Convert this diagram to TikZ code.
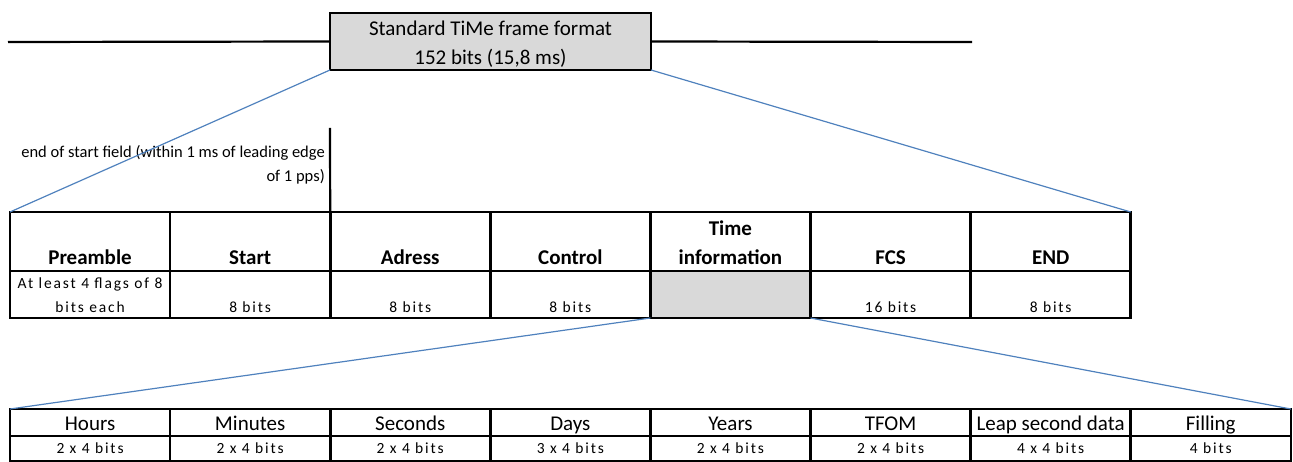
\documentclass[tikz,border=0pt]{standalone}
\usepackage{fontspec}
\setmainfont{Carlito}
\usetikzlibrary{positioning}
\definecolor{zoomblue}{RGB}{79,129,189}
\definecolor{cellgray}{RGB}{217,217,217}
\newcommand{\bigtxt}{\fontsize{21}{29}\selectfont}
\newcommand{\smalltxt}{\fontsize{15.5}{24}\selectfont\addfontfeature{LetterSpace=12}}
\tikzset{
  field/.style={
    % The shape:
    rectangle,
    % The border:
    draw=black, line width=2.6pt,
    outer sep=0pt, inner sep=0pt,
    % The size:
    minimum width=160.1pt
  },
  fieldhead/.style={field, minimum height=59pt},
  fieldbits/.style={field, minimum height=47pt},
  subhead/.style={field, minimum height=27pt, text height=16pt, text depth=0pt, font=\bigtxt},
  subbits/.style={field, minimum height=25pt, text height=11pt, text depth=2pt, font=\smalltxt},
  headtext/.style={font=\bigtxt\bfseries, align=center, anchor=south, inner sep=0pt},
  bitstext/.style={font=\smalltxt, align=center, anchor=south, inner sep=0pt}
}
\tikzstyle{line} = [draw, zoomblue, line width=1.2pt]

\begin{document}
\begin{tikzpicture}[x=1pt, y=-1pt]
\useasboundingbox (0,0) rectangle (1293,462);
% frame on the line
\coordinate (busL) at (8,42);
\coordinate (busR) at (972,42);
\node [field, anchor=north west, minimum width=321pt, minimum height=57pt, fill=cellgray] (title) at (330,13) {};
\node [font=\bigtxt, align=center, inner sep=0pt] (titleT) at ([yshift=-3pt]title.center) {Standard TiMe frame format\\152 bits (15,8 ms)};
\draw [line width=2.2pt] (busL) -- (title.west);
\draw [line width=2.2pt] (title.east) -- (busR);
% frame fields
\node [fieldhead, anchor=north west] (preH) at (10,212) {};
\node [fieldhead, right=0pt of preH] (startH) {};
\node [fieldhead, right=0pt of startH] (adrH) {};
\node [fieldhead, right=0pt of adrH] (ctrlH) {};
\node [fieldhead, right=0pt of ctrlH] (timeH) {};
\node [fieldhead, right=0pt of timeH] (fcsH) {};
\node [fieldhead, right=0pt of fcsH] (endH) {};
\node [fieldbits, below=0pt of preH] (preB) {};
\node [fieldbits, below=0pt of startH] (startB) {};
\node [fieldbits, below=0pt of adrH] (adrB) {};
\node [fieldbits, below=0pt of ctrlH] (ctrlB) {};
\node [fieldbits, below=0pt of timeH, fill=cellgray] (timeB) {};
\node [fieldbits, below=0pt of fcsH] (fcsB) {};
\node [fieldbits, below=0pt of endH] (endB) {};
% field texts
\node [headtext] (preHt) at ([yshift=6pt]preH.south) {Preamble};
\node [headtext] (startHt) at ([yshift=6pt]startH.south) {Start};
\node [headtext] (adrHt) at ([yshift=6pt]adrH.south) {Adress};
\node [headtext] (ctrlHt) at ([yshift=6pt]ctrlH.south) {Control};
\node [headtext] (timeHt) at ([yshift=6pt]timeH.south) {Time\\information};
\node [headtext] (fcsHt) at ([yshift=6pt]fcsH.south) {FCS};
\node [headtext] (endHt) at ([yshift=6pt]endH.south) {END};
\node [bitstext] (preBt) at ([yshift=5pt]preB.south) {At least 4 flags of 8\\bits each};
\node [bitstext] (startBt) at ([yshift=5pt]startB.south) {8 bits};
\node [bitstext] (adrBt) at ([yshift=5pt]adrB.south) {8 bits};
\node [bitstext] (ctrlBt) at ([yshift=5pt]ctrlB.south) {8 bits};
\node [bitstext] (fcsBt) at ([yshift=5pt]fcsB.south) {16 bits};
\node [bitstext] (endBt) at ([yshift=5pt]endB.south) {8 bits};
% end of start field
\coordinate (mark) at (330,128);
\draw [line width=2.2pt] (mark) -- (adrH.north west);
\node [font=\fontsize{16.5}{24}\selectfont, align=right, anchor=north east, inner sep=0pt] (endnote) at (325,145) {end of start field (within 1 ms of leading edge\\of 1 pps)};
% time information fields
\node [subhead, anchor=north west] (hoursH) at (10,409) {Hours};
\node [subhead, right=0pt of hoursH] (minH) {Minutes};
\node [subhead, right=0pt of minH] (secH) {Seconds};
\node [subhead, right=0pt of secH] (dayH) {Days};
\node [subhead, right=0pt of dayH] (yearH) {Years};
\node [subhead, right=0pt of yearH] (tfomH) {TFOM};
\node [subhead, right=0pt of tfomH] (leapH) {Leap second data};
\node [subhead, right=0pt of leapH] (fillH) {Filling};
\node [subbits, below=0pt of hoursH] (hoursB) {2 x 4 bits};
\node [subbits, below=0pt of minH] (minB) {2 x 4 bits};
\node [subbits, below=0pt of secH] (secB) {2 x 4 bits};
\node [subbits, below=0pt of dayH] (dayB) {3 x 4 bits};
\node [subbits, below=0pt of yearH] (yearB) {2 x 4 bits};
\node [subbits, below=0pt of tfomH] (tfomB) {2 x 4 bits};
\node [subbits, below=0pt of leapH] (leapB) {4 x 4 bits};
\node [subbits, below=0pt of fillH] (fillB) {4 bits};
% Draw edges
\path [line] (title.south west) -- (preH.north west);
\path [line] (title.south east) -- (endH.north east);
\path [line] (timeB.south west) -- (hoursH.north west);
\path [line] (timeB.south east) -- (fillH.north east);
\end{tikzpicture}
\end{document}
